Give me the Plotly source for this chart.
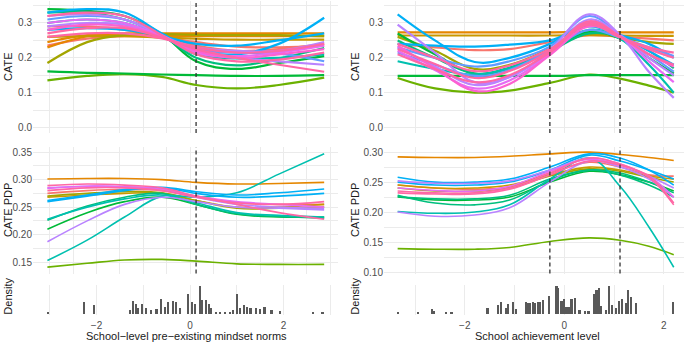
import plotly.graph_objects as go

W, H = 693, 347

# ---------------- data ----------------
xL = [-3.05, -2.2, -1.4, -0.6, 0.13, 1.0, 1.9, 2.87]
xR = [-3.35, -2.6, -1.8, -1.1, -0.29, 0.5, 1.12, 1.7, 2.2]

vline_left = [0.13]
vline_right = [-0.29, 1.12]

# Top-left: CATE vs school-level pre-existing mindset norms
cate_left = [
    ("#F8766D", [0.235, 0.255, 0.262, 0.258, 0.245, 0.232, 0.23, 0.235]),
    ("#F8766D", [0.29, 0.29, 0.28, 0.26, 0.235, 0.22, 0.225, 0.24]),
    ("#E58700", [0.23, 0.262, 0.27, 0.27, 0.27, 0.27, 0.27, 0.27]),
    ("#E58700", [0.245, 0.265, 0.266, 0.263, 0.262, 0.262, 0.262, 0.262]),
    ("#C99800", [0.26, 0.262, 0.262, 0.258, 0.255, 0.252, 0.252, 0.252]),
    ("#A3A500", [0.185, 0.245, 0.266, 0.268, 0.266, 0.265, 0.265, 0.262]),
    ("#6BB100", [0.135, 0.148, 0.153, 0.145, 0.122, 0.112, 0.122, 0.143]),
    ("#00BA38", [0.161, 0.157, 0.155, 0.152, 0.15, 0.148, 0.148, 0.15]),
    ("#00BA38", [0.34, 0.335, 0.32, 0.268, 0.19, 0.168, 0.185, 0.205]),
    ("#00BF7D", [0.33, 0.33, 0.31, 0.265, 0.2, 0.178, 0.198, 0.228]),
    ("#00C0AF", [0.3, 0.31, 0.3, 0.262, 0.21, 0.198, 0.2, 0.21]),
    ("#00B0F6", [0.33, 0.34, 0.33, 0.27, 0.222, 0.21, 0.24, 0.315]),
    ("#00B0F6", [0.28, 0.285, 0.28, 0.262, 0.24, 0.235, 0.25, 0.27]),
    ("#619CFF", [0.31, 0.32, 0.31, 0.265, 0.225, 0.215, 0.212, 0.19]),
    ("#B983FF", [0.32, 0.325, 0.31, 0.265, 0.215, 0.2, 0.19, 0.18]),
    ("#B983FF", [0.29, 0.3, 0.295, 0.26, 0.23, 0.22, 0.22, 0.245]),
    ("#E76BF3", [0.3, 0.31, 0.3, 0.262, 0.215, 0.205, 0.215, 0.235]),
    ("#FD61D1", [0.28, 0.295, 0.29, 0.26, 0.22, 0.2, 0.21, 0.225]),
    ("#FF67A4", [0.27, 0.285, 0.285, 0.258, 0.225, 0.2, 0.18, 0.16]),
    ("#FF67A4", [0.32, 0.33, 0.32, 0.265, 0.21, 0.19, 0.195, 0.215]),
    ("#FF67A4", [0.26, 0.27, 0.27, 0.256, 0.23, 0.215, 0.22, 0.24]),
]

# Top-right: CATE vs school achievement level
cate_right = [
    ("#F8766D", [0.24, 0.23, 0.222, 0.225, 0.245, 0.265, 0.26, 0.255, 0.25]),
    ("#E58700", [0.273, 0.273, 0.273, 0.273, 0.273, 0.274, 0.273, 0.273, 0.273]),
    ("#C99800", [0.264, 0.264, 0.264, 0.264, 0.264, 0.265, 0.264, 0.263, 0.263]),
    ("#A3A500", [0.26, 0.22, 0.168, 0.18, 0.225, 0.27, 0.258, 0.245, 0.24]),
    ("#6BB100", [0.142, 0.112, 0.1, 0.106, 0.128, 0.152, 0.14, 0.12, 0.1]),
    ("#00BA38", [0.148, 0.148, 0.148, 0.148, 0.148, 0.15, 0.15, 0.15, 0.15]),
    ("#00BA38", [0.27, 0.21, 0.155, 0.17, 0.22, 0.275, 0.255, 0.2, 0.155]),
    ("#00BF7D", [0.25, 0.2, 0.155, 0.172, 0.22, 0.27, 0.26, 0.22, 0.17]),
    ("#00C0AF", [0.19, 0.168, 0.152, 0.17, 0.22, 0.28, 0.255, 0.18, 0.1]),
    ("#00B0F6", [0.325, 0.25, 0.188, 0.2, 0.24, 0.3, 0.265, 0.22, 0.18]),
    ("#00B0F6", [0.24, 0.235, 0.232, 0.238, 0.25, 0.29, 0.265, 0.24, 0.2]),
    ("#619CFF", [0.23, 0.2, 0.175, 0.19, 0.232, 0.32, 0.265, 0.21, 0.16]),
    ("#619CFF", [0.215, 0.18, 0.148, 0.165, 0.222, 0.28, 0.258, 0.23, 0.205]),
    ("#B983FF", [0.295, 0.215, 0.13, 0.145, 0.222, 0.325, 0.265, 0.16, 0.085]),
    ("#B983FF", [0.23, 0.175, 0.122, 0.145, 0.215, 0.31, 0.265, 0.2, 0.15]),
    ("#E76BF3", [0.22, 0.165, 0.112, 0.135, 0.21, 0.3, 0.262, 0.19, 0.13]),
    ("#FD61D1", [0.235, 0.17, 0.105, 0.125, 0.208, 0.29, 0.26, 0.21, 0.175]),
    ("#FF67A4", [0.21, 0.168, 0.13, 0.15, 0.215, 0.3, 0.26, 0.225, 0.2]),
    ("#FF67A4", [0.24, 0.2, 0.162, 0.178, 0.225, 0.295, 0.258, 0.23, 0.215]),
    ("#FF67A4", [0.225, 0.182, 0.142, 0.162, 0.22, 0.305, 0.262, 0.21, 0.18]),
]

# Middle-left: CATE PDP vs mindset norms
pdp_left = [
    ("#F8766D", [0.275, 0.28, 0.282, 0.28, 0.27, 0.258, 0.255, 0.255]),
    ("#E58700", [0.301, 0.302, 0.302, 0.3, 0.295, 0.292, 0.293, 0.295]),
    ("#C99800", [0.268, 0.272, 0.275, 0.275, 0.262, 0.25, 0.25, 0.255]),
    ("#A3A500", [0.27, 0.275, 0.278, 0.276, 0.262, 0.248, 0.248, 0.25]),
    ("#6BB100", [0.141, 0.148, 0.154, 0.155, 0.152, 0.147, 0.146, 0.146]),
    ("#00BA38", [0.21, 0.24, 0.26, 0.268, 0.255, 0.237, 0.232, 0.232]),
    ("#00BF7D", [0.226, 0.252, 0.268, 0.275, 0.255, 0.238, 0.233, 0.23]),
    ("#00C0AF", [0.228, 0.25, 0.265, 0.272, 0.258, 0.24, 0.235, 0.232]),
    ("#00C0AF", [0.153, 0.19, 0.232, 0.27, 0.268, 0.276, 0.31, 0.347]),
    ("#00B0F6", [0.26, 0.27, 0.28, 0.286, 0.278, 0.272, 0.276, 0.283]),
    ("#00B0F6", [0.262, 0.272, 0.282, 0.285, 0.275, 0.268, 0.27, 0.275]),
    ("#B983FF", [0.187, 0.225, 0.255, 0.268, 0.26, 0.25, 0.248, 0.245]),
    ("#B983FF", [0.285, 0.288, 0.287, 0.283, 0.268, 0.255, 0.25, 0.248]),
    ("#E76BF3", [0.284, 0.288, 0.287, 0.282, 0.27, 0.26, 0.255, 0.25]),
    ("#FF67A4", [0.28, 0.285, 0.285, 0.28, 0.268, 0.258, 0.255, 0.26]),
    ("#FF67A4", [0.289, 0.292, 0.29, 0.285, 0.27, 0.255, 0.24, 0.228]),
]

# Middle-right: CATE PDP vs achievement level
pdp_right = [
    ("#F8766D", [0.245, 0.24, 0.238, 0.242, 0.265, 0.283, 0.275, 0.262, 0.26]),
    ("#E58700", [0.292, 0.291, 0.291, 0.293, 0.297, 0.3, 0.296, 0.291, 0.286]),
    ("#C99800", [0.245, 0.24, 0.24, 0.245, 0.262, 0.275, 0.27, 0.26, 0.255]),
    ("#A3A500", [0.24, 0.235, 0.235, 0.24, 0.26, 0.272, 0.268, 0.258, 0.25]),
    ("#6BB100", [0.139, 0.138, 0.138, 0.141, 0.151, 0.157, 0.153, 0.143, 0.129]),
    ("#00BA38", [0.225, 0.22, 0.22, 0.225, 0.25, 0.268, 0.262, 0.25, 0.235]),
    ("#00BF7D", [0.228, 0.215, 0.212, 0.22, 0.252, 0.27, 0.265, 0.25, 0.232]),
    ("#00BF7D", [0.226, 0.222, 0.222, 0.228, 0.255, 0.27, 0.262, 0.245, 0.225]),
    ("#00C0AF", [0.201, 0.198, 0.2, 0.212, 0.255, 0.29, 0.243, 0.175, 0.108]),
    ("#00B0F6", [0.258, 0.25, 0.25, 0.255, 0.275, 0.297, 0.29, 0.27, 0.245]),
    ("#00B0F6", [0.25, 0.245, 0.245, 0.25, 0.27, 0.295, 0.285, 0.27, 0.255]),
    ("#B983FF", [0.2, 0.193, 0.195, 0.207, 0.25, 0.285, 0.275, 0.255, 0.225]),
    ("#B983FF", [0.252, 0.248, 0.248, 0.252, 0.27, 0.29, 0.28, 0.26, 0.24]),
    ("#E76BF3", [0.24, 0.236, 0.235, 0.243, 0.268, 0.288, 0.278, 0.26, 0.225]),
    ("#FF67A4", [0.235, 0.232, 0.232, 0.24, 0.265, 0.29, 0.28, 0.258, 0.212]),
    ("#FF67A4", [0.232, 0.23, 0.23, 0.238, 0.262, 0.285, 0.278, 0.26, 0.215]),
]

# Histograms (bin centre, density height)
hist_left_x = [-3.03, -2.26, -2.05, -1.28, -1.21, -1.155, -1.105, -1.03, -0.93, -0.82,
               -0.71, -0.61, -0.53, -0.46, -0.36, -0.30, -0.21, -0.04, 0.04, 0.11,
               0.21, 0.27, 0.34, 0.41, 0.46, 0.56, 0.64, 0.75, 0.86, 0.93,
               1.01, 1.07, 1.16, 1.23, 1.30, 1.41, 1.50, 1.60, 1.75, 1.93,
               2.64, 2.84]
hist_left_y = [0.5, 4.6, 3.4, 1.7, 5.3, 3.9, 2.4, 3.9, 2.4, 1.7,
               2.0, 6.0, 2.9, 4.9, 5.3, 4.6, 2.4, 8.0, 4.6, 3.9,
               11.0, 5.7, 5.7, 3.9, 2.4, 0.6, 0.6, 0.6, 0.6, 1.7,
               8.0, 2.4, 3.4, 2.9, 2.4, 2.4, 2.0, 2.9, 1.7, 1.0,
               0.5, 0.5]

hist_right_x = [-3.34, -2.93, -2.65, -2.61, -2.38, -2.26, -1.54, -1.33, -1.27, -1.17,
                -1.12, -1.02, -0.97, -0.77, -0.72, -0.68, -0.63, -0.58, -0.53, -0.49,
                -0.42, -0.30, -0.15, -0.12, -0.05, 0.0, 0.05, 0.11, 0.15, 0.22,
                0.31, 0.42, 0.49, 0.60, 0.65, 0.70, 0.75, 0.85, 0.90, 0.97,
                1.05, 1.11, 1.17, 1.24, 1.29, 1.35, 1.44, 2.19]
hist_right_y = [0.5, 0.5, 2.0, 1.0, 0.5, 0.5, 2.4, 3.4, 4.6, 2.4,
                3.9, 4.6, 2.0, 4.6, 4.3, 4.3, 4.9, 4.3, 4.9, 4.9,
                5.7, 7.1, 11.0, 10.3, 5.3, 6.0, 2.9, 2.9, 6.0, 6.3,
                1.4, 1.1, 1.1, 8.1, 9.6, 10.3, 3.1, 1.7, 11.0, 3.4,
                2.4, 5.3, 6.0, 4.3, 9.6, 6.7, 4.3, 4.6]

x_tick_vals = [-2, 0, 2]
x_tick_text = ["\u22122", "0", "2"]
top_y_ticks = [0.0, 0.1, 0.2, 0.3]
midL_y_ticks = [0.15, 0.20, 0.25, 0.30, 0.35]
midR_y_ticks = [0.10, 0.15, 0.20, 0.25, 0.30]

# ---------------- figure ----------------
fig = go.Figure()

def add_lines(series, xs, ax, width):
    for col, ys in series:
        fig.add_trace(go.Scatter(
            x=xs, y=ys, mode="lines", xaxis="x" + ax, yaxis="y" + ax,
            line=dict(color=col, width=width, shape="spline", smoothing=1.1),
            showlegend=False, hoverinfo="skip"))

add_lines(cate_left, xL, "", 2.2)
add_lines(cate_right, xR, "2", 2.2)
add_lines(pdp_left, xL, "3", 1.6)
add_lines(pdp_right, xR, "4", 1.6)

fig.add_trace(go.Bar(x=hist_left_x, y=hist_left_y, width=0.035, xaxis="x5", yaxis="y5",
                     marker=dict(color="#595959", line=dict(width=0)), showlegend=False))
fig.add_trace(go.Bar(x=hist_right_x, y=hist_right_y, width=0.035, xaxis="x6", yaxis="y6",
                     marker=dict(color="#595959", line=dict(width=0)), showlegend=False))

def dxp(a, b):
    return [a / W, b / W]

def dyp(top, bot):
    return [1 - bot / H, 1 - top / H]

GRID = "#EBEBEB"
TICKF = dict(family="Liberation Sans, Arial, sans-serif", size=10, color="#4D4D4D")

LX = dxp(33, 338)
RX = dxp(384, 684)
TOPY = dyp(0, 134)
MIDY = dyp(148.5, 276.5)
BOTY = dyp(288, 318.5)

LXR = [-157 / 46.75, 148 / 46.75]
RXR = [-180.3 / 49.75, 119.7 / 49.75]

def xax(domain, rng, anchor, dtick, minor, labels=False):
    d = dict(domain=domain, range=rng, anchor=anchor, showline=False, zeroline=False,
             ticks="", showgrid=True, gridcolor=GRID, gridwidth=1,
             tickmode="linear", tick0=0, dtick=dtick, showticklabels=False,
             fixedrange=True)
    if minor:
        d["minor"] = dict(dtick=minor, tick0=0, showgrid=True, gridcolor=GRID, gridwidth=1)
    if labels:
        d.update(tickmode="array", tickvals=x_tick_vals, ticktext=x_tick_text,
                 showticklabels=True, tickfont=TICKF, ticklabelstandoff=3)
        d["minor"] = dict(tickmode="array", tickvals=[-3, -1, 1, 3], showgrid=True,
                          gridcolor=GRID, gridwidth=1)
    return d

def yax(domain, rng, anchor, ticks, texts, minor, show=True):
    d = dict(domain=domain, range=rng, anchor=anchor, showline=False, zeroline=False,
             ticks="", showgrid=show, gridcolor=GRID, gridwidth=1,
             tickmode="array", tickvals=ticks, ticktext=texts,
             showticklabels=show, tickfont=TICKF, fixedrange=True)
    if minor:
        d["minor"] = dict(dtick=minor, tick0=0, showgrid=True, gridcolor=GRID, gridwidth=1)
    return d

top_text = ["%.1f" % t for t in top_y_ticks]
midL_text = ["%.2f" % t for t in midL_y_ticks]
midR_text = ["%.2f" % t for t in midR_y_ticks]

fig.update_layout(
    width=W, height=H, margin=dict(l=0, r=0, t=0, b=0),
    paper_bgcolor="white", plot_bgcolor="white", bargap=0,
    font=dict(family="Liberation Sans, Arial, sans-serif"),
    xaxis=xax(LX, LXR, "y", 1, 0.5),
    yaxis=yax(TOPY, [-0.0161, 0.3631], "x", top_y_ticks, top_text, 0.05),
    xaxis2=xax(RX, RXR, "y2", 1, None),
    yaxis2=yax(TOPY, [-0.0161, 0.3631], "x2", top_y_ticks, top_text, 0.05),
    xaxis3=xax(LX, LXR, "y3", 1, 0.5),
    yaxis3=yax(MIDY, [0.1294, 0.3586], "x3", midL_y_ticks, midL_text, 0.025),
    xaxis4=xax(RX, RXR, "y4", 1, None),
    yaxis4=yax(MIDY, [0.0975, 0.3079], "x4", midR_y_ticks, midR_text, 0.025),
    xaxis5=xax(LX, LXR, "y5", 1, None, labels=True),
    yaxis5=yax(BOTY, [-0.5, 11.6], "x5", [], [], None, show=False),
    xaxis6=xax(RX, RXR, "y6", 1, None, labels=True),
    yaxis6=yax(BOTY, [-0.5, 11.6], "x6", [], [], None, show=False),
)

# dashed reference lines
for ax in ["", "3"]:
    for v in vline_left:
        fig.add_shape(type="line", xref="x" + ax, yref="y" + ax + " domain",
                      x0=v, x1=v, y0=0, y1=1,
                      line=dict(color="#333333", width=1.3, dash="4px,3px"))
for ax in ["2", "4"]:
    for v in vline_right:
        fig.add_shape(type="line", xref="x" + ax, yref="y" + ax + " domain",
                      x0=v, x1=v, y0=0, y1=1,
                      line=dict(color="#333333", width=1.3, dash="4px,3px"))

def title(text, xpx, ypx, angle=0, size=11):
    fig.add_annotation(text=text, x=xpx / W, y=1 - ypx / H, xref="paper", yref="paper",
                       showarrow=False, textangle=angle, xanchor="center", yanchor="middle",
                       font=dict(family="Liberation Sans, Arial, sans-serif", size=size,
                                 color="#1a1a1a"))

title("CATE", 8, 67, -90)
title("CATE", 355, 67, -90)
title("CATE PDP", 8, 212, -90)
title("CATE PDP", 355, 212, -90)
title("Density", 8, 300, -90)
title("Density", 355, 300, -90)
title("School\u2212level pre\u2212existing mindset norms", 186, 340)
title("School achievement level", 537, 340)

fig.write_html("out.html")
